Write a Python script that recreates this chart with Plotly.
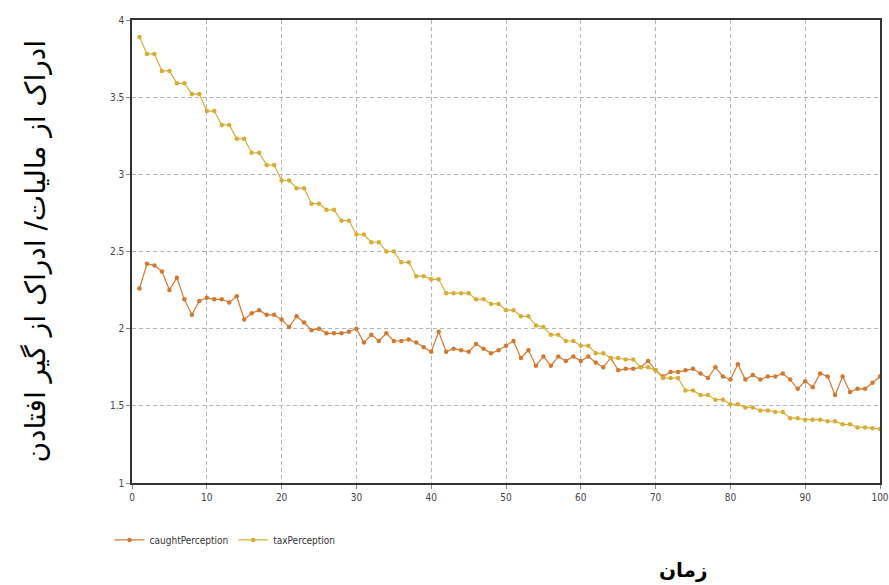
import plotly.graph_objects as go

time_steps = list(range(1, 101))

caught_perception = [
    2.26, 2.42, 2.41, 2.37, 2.25, 2.33, 2.19, 2.09, 2.18, 2.20,
    2.19, 2.19, 2.17, 2.21, 2.06, 2.10, 2.12, 2.09, 2.09, 2.06,
    2.01, 2.08, 2.04, 1.99, 2.00, 1.97, 1.97, 1.97, 1.98, 2.00,
    1.91, 1.96, 1.92, 1.97, 1.92, 1.92, 1.93, 1.91, 1.88, 1.85,
    1.98, 1.85, 1.87, 1.86, 1.85, 1.90, 1.87, 1.84, 1.86, 1.89,
    1.92, 1.81, 1.86, 1.76, 1.82, 1.76, 1.82, 1.79, 1.82, 1.79,
    1.82, 1.78, 1.75, 1.81, 1.73, 1.74, 1.74, 1.75, 1.79, 1.73,
    1.69, 1.72, 1.72, 1.73, 1.74, 1.71, 1.68, 1.75, 1.69, 1.67,
    1.77, 1.67, 1.70, 1.67, 1.69, 1.69, 1.71, 1.67, 1.61, 1.66,
    1.62, 1.71, 1.69, 1.57, 1.69, 1.59, 1.61, 1.61, 1.65, 1.69,
]

tax_perception = [
    3.89, 3.78, 3.78, 3.67, 3.67, 3.59, 3.59, 3.52, 3.52, 3.41,
    3.41, 3.32, 3.32, 3.23, 3.23, 3.14, 3.14, 3.06, 3.06, 2.96,
    2.96, 2.91, 2.91, 2.81, 2.81, 2.77, 2.77, 2.70, 2.70, 2.61,
    2.61, 2.56, 2.56, 2.50, 2.50, 2.43, 2.43, 2.34, 2.34, 2.32,
    2.32, 2.23, 2.23, 2.23, 2.23, 2.19, 2.19, 2.16, 2.16, 2.12,
    2.12, 2.08, 2.08, 2.02, 2.01, 1.96, 1.96, 1.92, 1.92, 1.89,
    1.89, 1.84, 1.84, 1.81, 1.81, 1.80, 1.80, 1.75, 1.75, 1.73,
    1.68, 1.68, 1.68, 1.60, 1.60, 1.57, 1.57, 1.54, 1.54, 1.51,
    1.51, 1.49, 1.49, 1.47, 1.47, 1.46, 1.46, 1.42, 1.42, 1.41,
    1.41, 1.41, 1.40, 1.40, 1.38, 1.38, 1.36, 1.36, 1.355, 1.35,
]

x_ticks = [0, 10, 20, 30, 40, 50, 60, 70, 80, 90, 100]
y_ticks = [1, 1.5, 2, 2.5, 3, 3.5, 4]
y_tick_labels = ["1", "1.5", "2", "2.5", "3", "3.5", "4"]

y_title = "ادراک از مالیات/ ادراک از گیر افتادن"
x_title = "زمان"

caught_color = "#d4782f"
tax_color = "#d9ad35"
tick_font = dict(family="DejaVu Sans Condensed, Liberation Sans Narrow, sans-serif", size=10, color="#444444")

fig = go.Figure()
fig.add_trace(go.Scatter(
    x=time_steps, y=caught_perception, name="caughtPerception",
    mode="lines+markers",
    line=dict(color=caught_color, width=1.2),
    marker=dict(color=caught_color, size=4.5, symbol="circle"),
))
fig.add_trace(go.Scatter(
    x=time_steps, y=tax_perception, name="taxPerception",
    mode="lines+markers",
    line=dict(color=tax_color, width=1.2),
    marker=dict(color=tax_color, size=4.5, symbol="circle"),
))

fig.update_layout(
    width=889, height=585,
    margin=dict(l=132, r=9, t=20, b=102, autoexpand=False),
    paper_bgcolor="white", plot_bgcolor="white",
    showlegend=True,
    legend=dict(orientation="h", x=-0.03, y=-0.123, xanchor="left", yanchor="middle",
                font=dict(family="DejaVu Sans Condensed, Liberation Sans Narrow, sans-serif", size=10, color="#333333"),
                itemwidth=30, bgcolor="rgba(0,0,0,0)"),
    font=dict(family="DejaVu Sans"),
)

fig.update_xaxes(
    range=[0, 100], tickvals=x_ticks, ticktext=[str(v) for v in x_ticks],
    showgrid=True, gridcolor="#b5b5b5", griddash="4px,3px", gridwidth=1,
    showline=True, linecolor="#333333", linewidth=1.5, mirror=True,
    ticks="outside", ticklen=4, tickcolor="#888888",
    tickfont=tick_font, zeroline=False, automargin=False, ticklabeloverflow="allow",
)
fig.update_yaxes(
    range=[1, 4], tickvals=y_ticks, ticktext=y_tick_labels,
    showgrid=True, gridcolor="#b5b5b5", griddash="4px,3px", gridwidth=1,
    showline=True, linecolor="#333333", linewidth=1.5, mirror=True,
    ticks="outside", ticklen=4, tickcolor="#888888",
    tickfont=tick_font, zeroline=False, automargin=False,
)

fig.add_annotation(
    text=y_title, xref="paper", yref="paper",
    x=(35 - 132) / 748, y=0.5, xanchor="center", yanchor="middle",
    textangle=-90, showarrow=False,
    font=dict(family="DejaVu Sans", size=28, color="black"),
)
fig.add_annotation(
    text="<b>" + x_title + "</b>", xref="paper", yref="paper",
    x=(683 - 132) / 748, y=(483 - 570) / 463, xanchor="center", yanchor="middle",
    showarrow=False,
    font=dict(family="DejaVu Sans", size=20, color="black"),
)

# remove the default 8px body margin so the 889x585 figure fills the window exactly
fig.write_html(
    "out.html",
    config={"displayModeBar": False},
    post_script="document.body.style.margin='0';document.body.style.overflow='hidden';",
)
